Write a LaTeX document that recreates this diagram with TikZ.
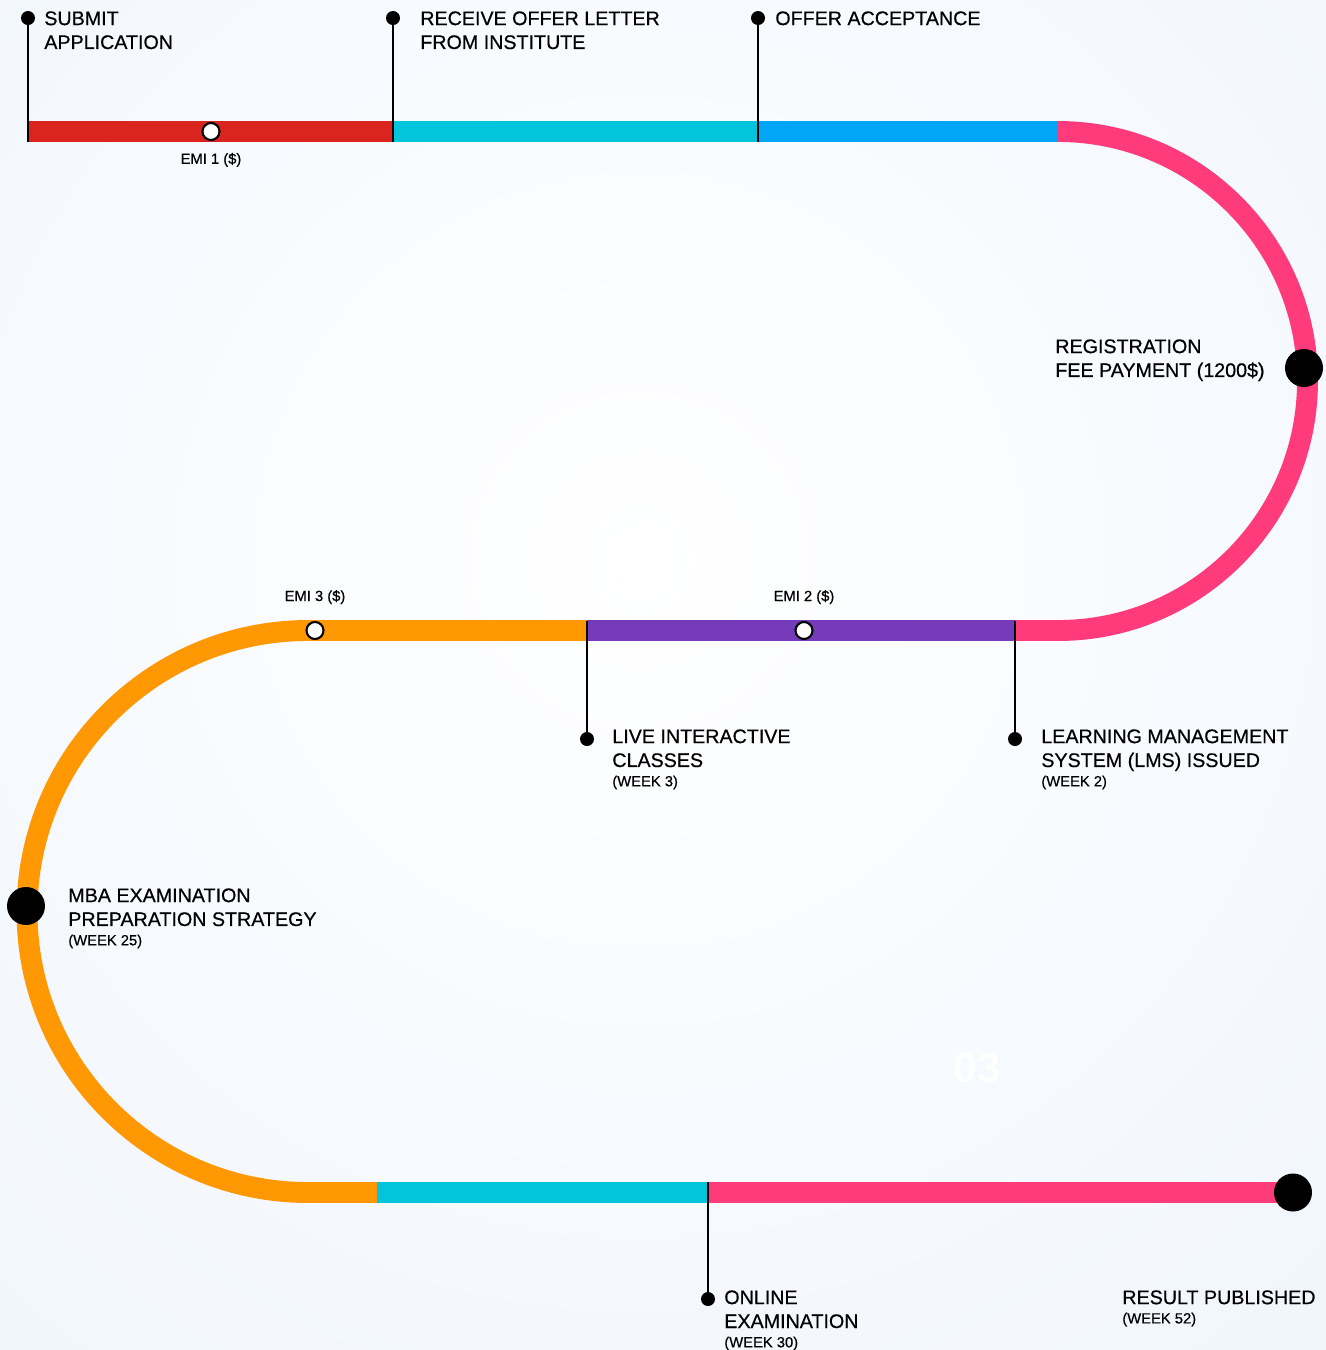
\documentclass[tikz,border=0pt]{standalone}
\usepackage{fontspec}
\setmainfont{Liberation Sans}
\newfontfamily\stepfont[FakeBold=0.5]{Liberation Sans}
\usetikzlibrary{positioning}
\definecolor{bgblue}{HTML}{F1F6FD}
\definecolor{trackred}{HTML}{DA251F}
\definecolor{trackcyan}{HTML}{02C4DA}
\definecolor{trackblue}{HTML}{02A6F6}
\definecolor{trackpink}{HTML}{FF3B7B}
\definecolor{trackpurple}{HTML}{763BB8}
\definecolor{trackorange}{HTML}{FF9802}
\newcommand{\weekline}[1]{{\fontsize{8.4}{10}\selectfont #1}}
\begin{document}
\begin{tikzpicture}[x=0.02cm, y=-0.02cm]
  \tikzstyle{track} = [line width=11.9pt]
  \tikzstyle{stem} = [line width=1.4pt, black]
  \tikzstyle{pindot} = [circle, fill=black, inner sep=0pt, minimum size=0.28cm]
  \tikzstyle{bigdot} = [circle, fill=black, inner sep=0pt, minimum size=0.76cm]
  \tikzstyle{emidot} = [circle, draw=black, line width=1.2pt, fill=white, inner sep=0pt, minimum size=0.34cm]
  \tikzstyle{steptext} = [align=left, anchor=north west, inner sep=0pt, font=\stepfont\fontsize{11.2}{13.6}\selectfont]
  \tikzstyle{emitext} = [inner sep=0pt, font=\stepfont\fontsize{8.4}{10}\selectfont]

  % background
  \useasboundingbox (0,0) rectangle (1326,1350);
  \clip (0,0) rectangle (1326,1350);
  \fill[bgblue] (0,0) rectangle (1326,1350);
  \shade[inner color=white, outer color=bgblue] (640,560) circle (1000);
  \node (num-03) [text=white, font=\bfseries\fontsize{24}{24}\selectfont] at (977,1068) {03};

  % the track
  \draw[track, trackred] (28,131.5) -- (393,131.5);
  \draw[track, trackcyan] (393,131.5) -- (758,131.5);
  \draw[track, trackblue] (758,131.5) -- (1058,131.5);
  \draw[track, trackpink] (1058,131.5) arc[start angle=-90, end angle=90, radius=249.5] -- (1015,630.5);
  \draw[track, trackpurple] (1015,630.5) -- (587,630.5);
  \draw[track, trackorange] (587,630.5) -- (308,630.5) arc[start angle=-90, end angle=-270, radius=281] -- (377,1192.5);
  \draw[track, trackcyan] (377,1192.5) -- (708,1192.5);
  \draw[track, trackpink] (708,1192.5) -- (1293,1192.5);

  % top row
  \node (submit-dot) [pindot] at (28,18) {};
  \coordinate (submit-base) at (28,142);
  \node (submit) [steptext] at (44,11) {SUBMIT\\APPLICATION};
  \node (offer-dot) [pindot] at (393,18) {};
  \coordinate (offer-base) at (393,142);
  \node (offer) [steptext] at (420,11) {RECEIVE OFFER LETTER\\FROM INSTITUTE};
  \node (accept-dot) [pindot] at (758,18) {};
  \coordinate (accept-base) at (758,142);
  \node (accept) [steptext] at (775,11) {OFFER ACCEPTANCE};
  \draw[stem] (submit-dot) -- (submit-base);
  \draw[stem] (offer-dot) -- (offer-base);
  \draw[stem] (accept-dot) -- (accept-base);

  \node (emi-dot-1) [emidot] at (211,131.5) {};
  \node (emi-1) [emitext, below=0.23cm of emi-dot-1] {EMI 1 (\$)};

  % registration
  \node (reg-dot) [bigdot] at (1304,368) {};
  \node (reg) [steptext] at (1055,339) {REGISTRATION\\FEE PAYMENT (1200\$)};

  % middle row
  \node (emi-dot-2) [emidot] at (804,630.5) {};
  \node (emi-2) [emitext, above=0.33cm of emi-dot-2] {EMI 2 (\$)};
  \node (emi-dot-3) [emidot] at (315,630.5) {};
  \node (emi-3) [emitext, above=0.33cm of emi-dot-3] {EMI 3 (\$)};

  \coordinate (live-base) at (587,621);
  \node (live-dot) [pindot] at (587,739) {};
  \node (live) [steptext] at (612,729) {LIVE INTERACTIVE\\CLASSES\\[-2.6pt]\weekline{(WEEK 3)}};
  \coordinate (lms-base) at (1015,621);
  \node (lms-dot) [pindot] at (1015,739) {};
  \node (lms) [steptext] at (1041,729) {LEARNING MANAGEMENT\\SYSTEM (LMS) ISSUED\\[-2.6pt]\weekline{(WEEK 2)}};
  \draw[stem] (live-base) -- (live-dot);
  \draw[stem] (lms-base) -- (lms-dot);

  % left bend
  \node (mba-dot) [bigdot] at (26,906) {};
  \node (mba) [steptext] at (68,888) {MBA EXAMINATION\\PREPARATION STRATEGY\\[-2.6pt]\weekline{(WEEK 25)}};

  % bottom row
  \coordinate (exam-base) at (708,1182);
  \node (exam-dot) [pindot] at (708,1299) {};
  \node (exam) [steptext] at (724,1290) {ONLINE\\EXAMINATION\\[-2.6pt]\weekline{(WEEK 30)}};
  \draw[stem] (exam-base) -- (exam-dot);

  \node (result-dot) [bigdot] at (1293,1192.5) {};
  \node (result) [steptext] at (1122,1290) {RESULT PUBLISHED\\[-2.6pt]\weekline{(WEEK 52)}};
\end{tikzpicture}
\end{document}
